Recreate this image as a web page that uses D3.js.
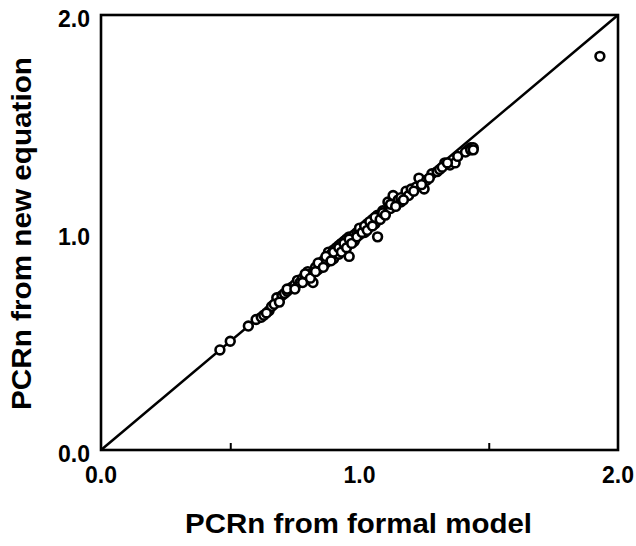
<!DOCTYPE html>
<html><head><meta charset="utf-8">
<script src="https://cdn.jsdelivr.net/npm/d3@7"></script>
<style>body{margin:0;background:#fff}</style>
</head><body>
<svg id="c" width="636" height="546"></svg>
<script>
const xTitle = "PCRn from formal model";
const yTitle = "PCRn from new equation";
const tickLabels = ["0.0", "1.0", "2.0"];
const tickLabelValues = [0, 1, 2];
const minorTicks = [0.5, 1.5];
const xFormal = [0.46,0.50,0.57,0.60,0.62,0.63,0.65,0.66,0.68,0.70,0.71,0.72,0.73,0.74,0.75,0.76,0.77,0.78,0.79,0.80,0.80,0.81,0.82,0.83,0.84,0.85,0.85,0.86,0.87,0.87,0.88,0.88,0.89,0.90,0.90,0.91,0.91,0.92,0.92,0.93,0.93,0.94,0.95,0.95,0.96,0.96,0.97,0.98,0.98,0.99,1.00,1.00,1.01,1.02,1.03,1.04,1.05,1.06,1.07,1.07,1.08,1.09,1.10,1.11,1.12,1.13,1.14,1.15,1.16,1.18,1.19,1.20,1.22,1.23,1.25,1.26,1.28,1.30,1.31,1.33,1.35,1.37,1.38,1.42,1.43,1.44,1.93,
  0.64,0.67,0.69,0.72,0.75,0.78,0.79,0.81,0.83,0.84,0.86,0.87,0.89,0.90,0.92,0.93,0.94,0.95,0.96,0.97,0.99,1.00,1.01,1.02,1.03,1.04,1.05,1.06,1.08,1.09,1.10,1.12,1.14,1.16,1.17,1.21,1.24,1.27,1.32,1.34,1.41,1.43,1.44];
const yNew = [0.46,0.50,0.57,0.60,0.61,0.62,0.64,0.66,0.70,0.71,0.72,0.73,0.74,0.75,0.76,0.78,0.77,0.79,0.80,0.80,0.82,0.81,0.77,0.84,0.83,0.86,0.85,0.87,0.88,0.86,0.89,0.91,0.90,0.88,0.92,0.93,0.91,0.94,0.90,0.95,0.93,0.96,0.97,0.94,0.98,0.89,0.97,0.99,0.96,1.00,1.01,0.99,1.02,1.00,1.04,1.03,1.06,1.04,0.98,1.08,1.07,1.10,1.09,1.14,1.11,1.17,1.13,1.15,1.14,1.19,1.17,1.20,1.21,1.25,1.20,1.24,1.27,1.28,1.29,1.32,1.31,1.32,1.35,1.38,1.39,1.39,1.81,
  0.63,0.67,0.68,0.74,0.74,0.77,0.81,0.79,0.82,0.86,0.84,0.89,0.87,0.91,0.93,0.91,0.95,0.93,0.97,0.95,0.98,1.02,1.00,1.03,1.01,1.05,1.03,1.07,1.06,1.09,1.08,1.13,1.12,1.16,1.15,1.19,1.22,1.25,1.30,1.32,1.37,1.38,1.38];

const svg = d3.select("#c");
const L = 101, R = 618, T = 15, B = 450;
const x = d3.scaleLinear().domain([0, 2]).range([L, R]);
const y = d3.scaleLinear().domain([0, 2]).range([B, T]);
const font = "'Liberation Sans', Arial, Helvetica, sans-serif";

// diagonal
svg.append("line").attr("x1", x(0)).attr("y1", y(0)).attr("x2", x(2)).attr("y2", y(2))
  .attr("stroke", "#000").attr("stroke-width", 2.5);

// points
svg.append("g").selectAll("circle").data(xFormal.map((v, i) => [v, yNew[i]])).join("circle")
  .attr("cx", d => x(d[0])).attr("cy", d => y(d[1])).attr("r", 4.4)
  .attr("fill", "#fff").attr("stroke", "#000").attr("stroke-width", 2.6);

// axes: inward ticks
const xAxis = d3.axisTop(x).tickValues(minorTicks).tickSize(7).tickFormat("");
const gx = svg.append("g").attr("transform", `translate(0,${B})`).call(xAxis);
gx.select(".domain").remove();
gx.selectAll("line").attr("stroke", "#000").attr("stroke-width", 2);

// frame
svg.append("rect").attr("x", L).attr("y", T).attr("width", R - L).attr("height", B - T)
  .attr("fill", "none").attr("stroke", "#000").attr("stroke-width", 2.6);

// tick labels
svg.append("g").selectAll("text").data(tickLabelValues).join("text")
  .attr("x", 90).attr("y", d => y(d) + 12).attr("text-anchor", "end")
  .attr("font-family", font).attr("font-weight", "bold").attr("font-size", 23)
  .text((d, i) => tickLabels[i]);
svg.append("g").selectAll("text").data(tickLabelValues).join("text")
  .attr("x", d => x(d)).attr("y", 483).attr("text-anchor", "middle")
  .attr("font-family", font).attr("font-weight", "bold").attr("font-size", 23)
  .text((d, i) => tickLabels[i]);

// titles
svg.append("text").attr("x", 185).attr("y", 533)
  .attr("font-family", font).attr("font-weight", "bold").attr("font-size", 28)
  .attr("textLength", 347).attr("lengthAdjust", "spacingAndGlyphs").text(xTitle);
svg.append("text").attr("transform", "translate(31,410) rotate(-90)")
  .attr("font-family", font).attr("font-weight", "bold").attr("font-size", 28)
  .attr("textLength", 353).attr("lengthAdjust", "spacingAndGlyphs").text(yTitle);
</script>
</body></html>
